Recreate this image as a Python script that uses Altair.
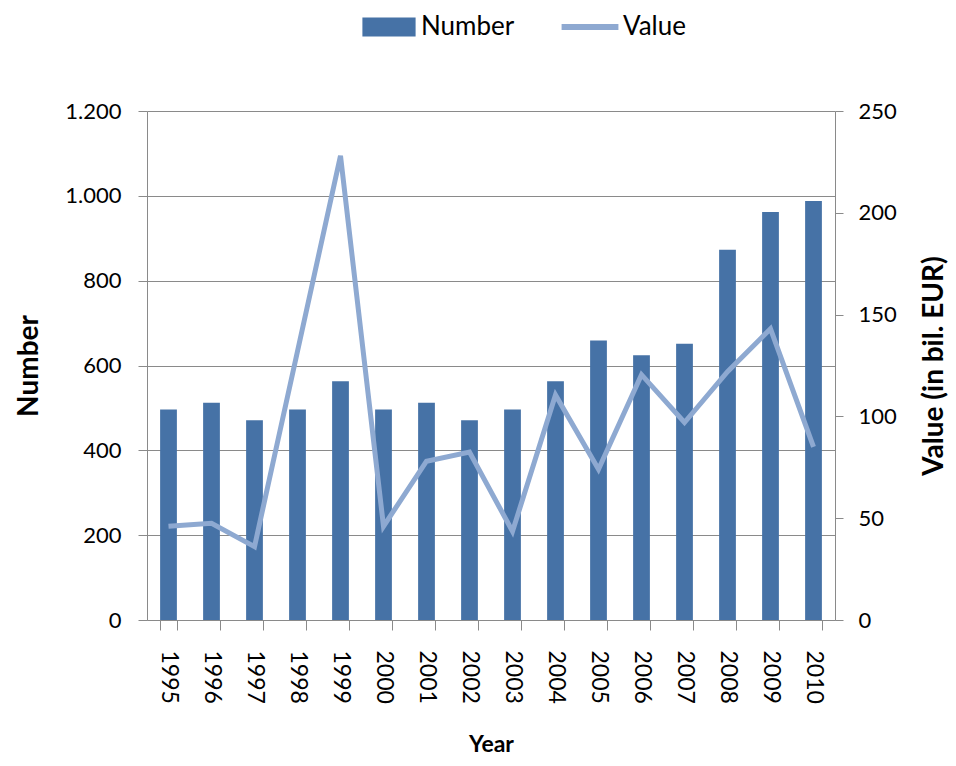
import altair as alt
import pandas as pd

years = [str(y) for y in range(1995, 2011)]
numbers = [496, 512, 471, 496, 563, 496, 512, 471, 496, 563, 659, 624, 651, 873, 962, 988]
values = [46, 47.5, 36, 132, 228, 46, 78, 82.5, 43.5, 110.5, 74, 120.5, 97, 122, 143, 85]
number_ticks = [0, 200, 400, 600, 800, 1000, 1200]
value_ticks = [0, 50, 100, 150, 200, 250]

BAR = "#4672A6"
LINE = "#8EA9D1"
GRID = "#8a8a8a"
FONT = "Lato"

df = pd.DataFrame({"Year": years, "Number": numbers, "Value": values})

xenc = alt.X(
    "Year:N",
    sort=years,
    scale=alt.Scale(paddingInner=0.61, paddingOuter=0.305),
    axis=alt.Axis(
        title="Year", labelAngle=90, tickBand="extent", tickSize=10,
        labelPadding=20, titlePadding=30, labelFontSize=23, titleFontSize=23,
        titleFontWeight="bold", grid=False,
    ),
)

bars = alt.Chart(df).transform_calculate(s1="'Number'").mark_bar().encode(
    x=xenc,
    y=alt.Y(
        "Number:Q",
        scale=alt.Scale(domain=[0, 1200], nice=False),
        axis=alt.Axis(
            values=number_ticks, tickSize=9, labelPadding=17,
            labelExpr="replace(format(datum.value, ','), ',', '.')",
            title="Number", titleFontSize=28, titleFontWeight="bold",
            titlePadding=21, labelFontSize=22, grid=True,
        ),
    ),
    fill=alt.Fill(
        "s1:N",
        scale=alt.Scale(domain=["Number"], range=[BAR]),
        legend=alt.Legend(
            title=None, orient="none", legendX=229, legendY=-97,
            symbolType="M-2.8,-1L2.8,-1L2.8,1L-2.8,1Z", symbolSize=361,
            symbolStrokeWidth=0, labelFontSize=26, labelOffset=19,
            labelFont=FONT, labelColor="black",
        ),
    ),
)

line = alt.Chart(df).transform_calculate(s2="'Value'").mark_line(strokeWidth=5, strokeJoin="miter").encode(
    x=alt.X("Year:N", sort=years),
    y=alt.Y(
        "Value:Q",
        scale=alt.Scale(domain=[0, 250], nice=False),
        axis=alt.Axis(
            orient="right", values=value_ticks, grid=False, tickSize=8,
            labelPadding=15, labelFontSize=22,
            title="Value (in bil. EUR)", titleAngle=270, titleBaseline="top",
            titlePadding=24, titleFontSize=28, titleFontWeight="bold",
        ),
    ),
    stroke=alt.Stroke(
        "s2:N",
        scale=alt.Scale(domain=["Value"], range=[LINE]),
        legend=alt.Legend(
            title=None, orient="none", legendX=430, legendY=-97,
            symbolType="M-2.9,0L2.9,0", symbolSize=384, symbolStrokeWidth=6,
            labelFontSize=26, labelOffset=20, labelFont=FONT, labelColor="black",
        ),
    ),
)

chart = (
    alt.layer(bars, line)
    .resolve_scale(y="independent", fill="independent", stroke="independent")
    .properties(
        width=688, height=509,
        autosize=alt.AutoSizeParams(type="none"),
        padding={"left": 139, "top": 103, "right": 113, "bottom": 138},
    )
    .configure_view(stroke=None)
    .configure_axis(
        labelFont=FONT, titleFont=FONT, labelColor="black", titleColor="black",
        domainColor=GRID, tickColor=GRID, gridColor=GRID, domainWidth=1,
        gridWidth=1, tickWidth=1, gridOpacity=1,
    )
    .configure_legend(labelFont=FONT)
)

chart.save("out.html", embed_options={"renderer": "svg", "actions": False})
